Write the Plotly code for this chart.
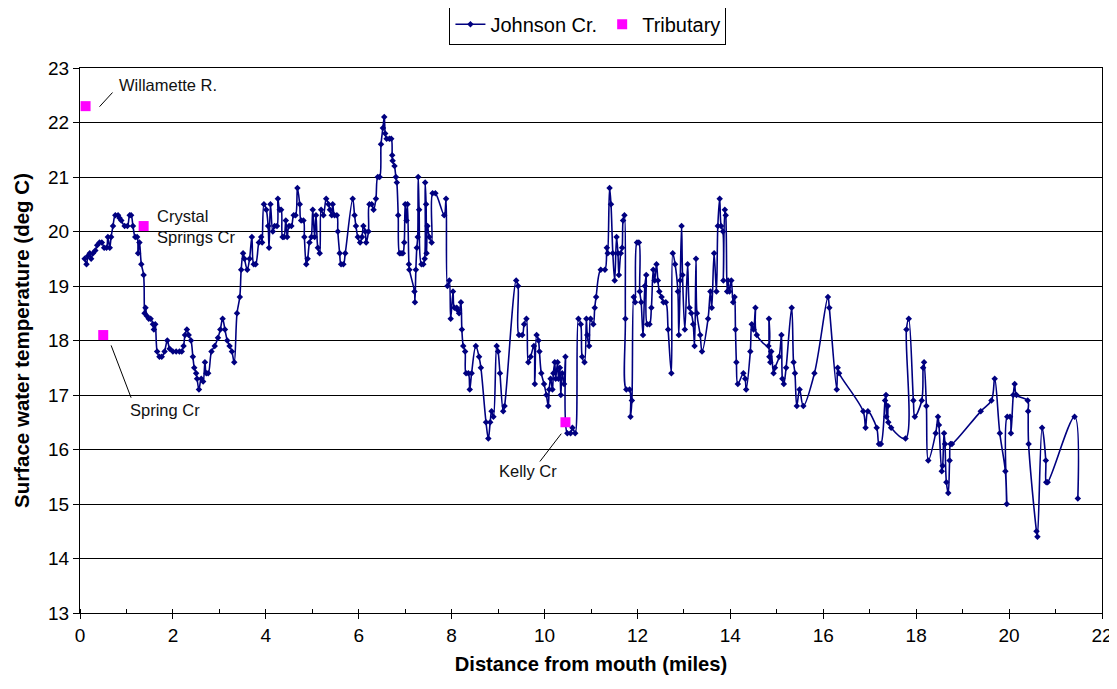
import plotly.graph_objects as go

# Johnson Creek longitudinal temperature profile
dist_miles = [
    0.10, 0.14, 0.17, 0.21, 0.24, 0.28, 0.33, 0.37, 0.42, 0.47, 0.52, 0.57, 0.60, 0.64, 0.67, 0.71,
    0.76, 0.82, 0.85, 0.89, 0.96, 1.02, 1.07, 1.10, 1.14, 1.19, 1.23, 1.25, 1.28, 1.32, 1.37, 1.39,
    1.41, 1.44, 1.48, 1.52, 1.57, 1.59, 1.62, 1.66, 1.71, 1.76, 1.82, 1.88, 1.93, 2.00, 2.07, 2.14,
    2.19, 2.23, 2.26, 2.30, 2.34, 2.39, 2.43, 2.46, 2.50, 2.52, 2.56,
    2.61, 2.65, 2.69, 2.72, 2.76, 2.83, 2.90, 2.97, 3.02, 3.07, 3.12, 3.17, 3.22, 3.27, 3.32, 3.38,
    3.44, 3.47, 3.51, 3.54, 3.60, 3.65, 3.70, 3.74, 3.78, 3.85, 3.90, 3.92, 3.96, 4.01, 4.05, 4.07,
    4.10, 4.15, 4.19, 4.24, 4.26, 4.30, 4.33, 4.36, 4.39, 4.43, 4.46, 4.50, 4.55, 4.60, 4.64, 4.68,
    4.73, 4.76, 4.81, 4.83, 4.87, 4.90, 4.94, 4.98, 5.01, 5.05, 5.08, 5.12, 5.16,
    5.19, 5.24, 5.30, 5.35, 5.38, 5.42, 5.44, 5.48, 5.53, 5.55, 5.59, 5.62, 5.67, 5.71, 5.87, 5.91,
    5.94, 5.98, 6.03, 6.07, 6.10, 6.14, 6.16, 6.21, 6.23, 6.28, 6.32, 6.37, 6.41, 6.45, 6.48, 6.52,
    6.55, 6.57, 6.60, 6.66, 6.70, 6.72, 6.73, 6.77, 6.80, 6.82, 6.85, 6.88, 6.91, 6.95, 6.98, 7.00,
    7.03, 7.05, 7.08, 7.09, 7.20, 7.21, 7.23, 7.25, 7.27, 7.28, 7.30, 7.35, 7.39, 7.42, 7.43, 7.45,
    7.46, 7.48, 7.52, 7.57, 7.59, 7.65, 7.84, 7.88, 7.91, 7.95, 7.98,
    8.03, 8.06, 8.11, 8.14, 8.16, 8.20, 8.22, 8.25, 8.29, 8.31, 8.36, 8.39, 8.43, 8.52, 8.59, 8.63,
    8.74, 8.79, 8.83, 8.86, 8.90, 8.97, 9.00, 9.04, 9.11, 9.14, 9.39, 9.43, 9.45, 9.52, 9.56, 9.61,
    9.65, 9.70, 9.77, 9.79, 9.83, 9.87, 9.89, 9.93, 9.99, 10.04, 10.08, 10.10, 10.13, 10.17, 10.19,
    10.22, 10.24, 10.28, 10.30, 10.33, 10.35, 10.38, 10.42, 10.45,
    10.49, 10.56, 10.60, 10.66, 10.73, 10.78, 10.81, 10.86, 10.90, 10.92, 10.96, 10.99, 11.05, 11.08,
    11.11, 11.21, 11.30, 11.34, 11.36, 11.40, 11.43, 11.47, 11.51, 11.55, 11.58, 11.60, 11.64, 11.67,
    11.69, 11.72, 11.74, 11.76, 11.83, 11.85, 11.88, 11.92, 11.95, 11.99, 12.03, 12.05, 12.08, 12.12,
    12.16, 12.19, 12.21, 12.26, 12.30, 12.34, 12.37, 12.41, 12.44, 12.47, 12.52, 12.56, 12.61, 12.66,
    12.73, 12.76, 12.81, 12.87, 12.89, 12.92, 12.95, 12.97, 13.02, 13.08, 13.12, 13.16,
    13.20, 13.23, 13.26, 13.28, 13.35, 13.39, 13.52, 13.57, 13.60, 13.65, 13.70, 13.73, 13.77, 13.80,
    13.84, 13.85, 13.88, 13.90, 13.93, 13.95, 13.98, 14.02, 14.06, 14.09, 14.11, 14.13, 14.16, 14.28,
    14.32, 14.34, 14.43, 14.46, 14.50, 14.54, 14.57, 14.82, 14.83, 14.84, 14.86, 14.88, 14.93, 14.96,
    15.05, 15.10, 15.12, 15.15, 15.20, 15.32, 15.36, 15.39, 15.43, 15.49, 15.57,
    15.81, 16.10, 16.13, 16.29, 16.31, 16.34, 16.86, 16.91, 16.96, 17.15, 17.20, 17.24, 17.33, 17.35,
    17.36, 17.39, 17.40, 17.46, 17.77, 17.79, 17.84, 17.94, 17.97, 18.12, 18.15, 18.17, 18.22,
    18.26, 18.42, 18.47, 18.49, 18.55, 18.57, 18.60, 18.62, 18.65, 18.69, 18.72, 18.74, 18.77, 19.39,
    19.62, 19.69, 19.80, 19.92, 19.95, 19.96, 20.02, 20.04, 20.09, 20.12, 20.16, 20.40, 20.41, 20.42,
    20.59, 20.61, 20.71, 20.79, 20.80, 20.83, 21.41, 21.48,
]
temp_c = [
    19.5, 19.4, 19.55, 19.6, 19.5, 19.6, 19.65, 19.75, 19.8, 19.8, 19.7, 19.7, 19.9, 19.7, 19.9, 20.1,
    20.3, 20.3, 20.25, 20.2, 20.1, 20.1, 20.3, 20.3, 20.1, 19.9, 19.9, 19.6, 19.8, 19.4, 19.2, 18.5,
    18.6, 18.45, 18.4, 18.4, 18.3, 18.2, 18.3, 17.8, 17.7, 17.7, 17.8, 18.0, 17.85, 17.8, 17.8, 17.8,
    17.8, 17.9, 18.1, 18.2, 18.1, 18.0, 17.7, 17.5, 17.4, 17.3, 17.1,
    17.3, 17.25, 17.6, 17.4, 17.4, 17.8, 17.9, 18.05, 18.2, 18.4, 18.2, 18.0, 17.9, 17.8, 17.6, 18.5,
    18.8, 19.3, 19.6, 19.5, 19.3, 19.5, 19.9, 19.4, 19.4, 19.8, 19.9, 19.8, 20.5, 20.4, 20.1, 19.7,
    20.5, 20.0, 20.1, 20.1, 20.6, 20.4, 20.4, 19.9, 19.9, 20.2, 19.9, 20.1, 20.1, 20.3, 20.3, 20.8,
    20.5, 20.2, 20.2, 19.9, 19.4, 19.5, 19.8, 19.9, 20.4, 19.9, 20.3, 19.7, 19.6,
    20.4, 20.3, 20.6, 20.5, 20.4, 20.3, 20.5, 20.3, 20.3, 20.0, 19.6, 19.4, 19.4, 19.6, 20.6, 20.3,
    20.1, 19.9, 19.8, 19.9, 20.1, 20.0, 19.8, 20.0, 20.5, 20.5, 20.4, 20.6, 21.0, 21.0, 21.6, 21.9,
    22.1, 21.8, 21.7, 21.7, 21.7, 21.4, 21.3, 21.2, 21.0, 20.9, 20.3, 19.6, 19.6, 19.6, 19.8, 20.5,
    20.2, 20.5, 19.4, 19.3, 18.9, 18.7, 19.3, 19.7, 19.9, 21.0, 20.4, 19.4, 19.4, 19.5, 20.9, 20.5,
    19.6, 20.1, 19.9, 19.8, 20.7, 20.7, 20.3, 20.6, 19.0, 19.1, 18.4,
    18.9, 18.6, 18.6, 18.55, 18.5, 18.7, 18.2, 17.9, 17.8, 17.4, 17.4, 17.1, 17.4, 17.9, 17.7, 17.5,
    16.5, 16.2, 16.5, 16.7, 16.6, 17.9, 17.8, 17.4, 16.7, 16.8, 19.1, 19.0, 18.1, 18.1, 18.3, 18.4,
    17.6, 17.7, 17.9, 17.2, 18.1, 18.0, 17.8, 17.4, 17.2, 17.0, 16.8, 17.1, 17.3, 17.1, 17.4,
    17.6, 17.3, 17.6, 17.3, 17.5, 17.0, 17.4, 17.2, 17.7,
    16.3, 16.3, 16.4, 16.3, 18.4, 18.3, 17.7, 17.6, 18.4, 18.1, 17.9, 18.4, 18.3, 18.6,
    18.8, 19.3, 19.3, 19.7, 19.6, 20.8, 20.5, 19.6, 19.1, 19.9, 19.6, 19.2, 19.6, 19.7,
    20.2, 20.3, 18.4, 17.1, 17.1, 16.6, 16.9, 18.8, 18.7, 19.8, 19.8, 18.9, 18.7, 18.1,
    19.0, 19.2, 18.3, 18.3, 18.6, 19.3, 19.1, 19.4, 19.1, 18.9, 18.8, 18.7, 18.7, 18.2,
    17.4, 19.6, 19.4, 18.9, 18.1, 19.1, 20.1, 19.2, 18.2, 19.4, 18.6, 18.5,
    18.3, 17.9, 19.5, 18.5, 18.1, 17.8, 18.4, 18.9, 18.6, 19.6, 18.9, 20.1, 20.6, 20.1,
    20.0, 19.1, 20.4, 20.3, 18.9, 19.1, 18.9, 19.1, 18.7, 18.8, 18.2, 17.6, 17.2, 17.4,
    17.3, 17.1, 17.8, 18.3, 18.2, 18.6, 18.1, 17.9, 18.4, 17.7, 17.6, 17.8, 17.4, 17.5,
    17.7, 18.1, 17.3, 17.2, 17.5, 18.6, 17.6, 17.4, 16.8, 17.1, 16.8,
    17.4, 18.8, 18.6, 17.1, 17.5, 17.4, 16.7, 16.4, 16.7, 16.4, 16.1, 16.1, 16.9, 17.0,
    16.6, 16.8, 16.5, 16.4, 16.2, 18.2, 18.4, 16.9, 16.6, 16.9, 17.5, 17.6, 16.8,
    15.8, 16.3, 16.6, 16.45, 15.6, 15.7, 16.3, 16.1, 15.4, 15.2, 15.8, 16.1, 16.1, 16.7,
    16.9, 17.3, 16.3, 15.6, 15.0, 16.6, 16.6, 16.3, 17.0, 17.2, 17.0, 16.9, 16.7, 16.1,
    14.5, 14.4, 16.4, 15.8, 15.4, 15.4, 16.6, 15.1,
]

# Tributary inflow temperatures
trib_names = ["Willamette R.", "Spring Cr", "Crystal<br>Springs Cr", "Kelly Cr"]
trib_miles = [0.12, 0.50, 1.37, 10.45]
trib_temp = [22.3, 18.1, 20.1, 16.5]

# label placement (data coords) and leader lines
label_x = [0.79, 1.04, 1.62, 9.65]
label_y = [22.69, 16.73, 20.1, 15.61]
label_anchor = ["left", "left", "left", "center"]
leader_x0 = [0.42, 0.67, None, 10.36]
leader_y0 = [22.29, 17.91, None, 16.29]
leader_x1 = [0.70, 1.10, None, 9.90]
leader_y1 = [22.55, 16.95, None, 15.78]

x_ticks = list(range(0, 23, 2))
y_ticks = list(range(13, 24))

NAVY = "#000080"
FONT = "Liberation Sans, Arial, sans-serif"

fig = go.Figure()
fig.add_trace(go.Scatter(
    x=dist_miles, y=temp_c, name="Johnson Cr.", mode="lines+markers",
    line=dict(color=NAVY, width=1.6, shape="spline", smoothing=1.0),
    marker=dict(symbol="diamond", size=5, color=NAVY),
))
fig.add_trace(go.Scatter(
    x=trib_miles, y=trib_temp, name="Tributary", mode="markers",
    marker=dict(symbol="square", size=10, color="#FF00FF"),
))

for i, name in enumerate(trib_names):
    fig.add_annotation(x=label_x[i], y=label_y[i], text=name, showarrow=False,
                       xanchor=label_anchor[i], yanchor="middle", align="left",
                       font=dict(family=FONT, size=16.5, color="#111111"))
    if leader_x0[i] is not None:
        fig.add_shape(type="line", xref="x", yref="y",
                      x0=leader_x0[i], y0=leader_y0[i], x1=leader_x1[i], y1=leader_y1[i],
                      line=dict(color="black", width=1))

# the page body adds an 8px margin, so the figure is drawn 8px smaller
fig.update_layout(
    width=1109, height=681,
    margin=dict(l=72, r=15, t=60, b=76, autoexpand=False),
    paper_bgcolor="white", plot_bgcolor="white",
    font=dict(family=FONT, size=19, color="black"),
    showlegend=True,
    legend=dict(orientation="h", x=0.497, xanchor="center", y=1.118, yanchor="top",
                bordercolor="black", borderwidth=1, bgcolor="white",
                font=dict(size=20), itemwidth=30, tracegroupgap=0),
)
fig.update_xaxes(
    range=[0, 22], tickvals=x_ticks, showgrid=False, zeroline=False,
    showline=True, linecolor="black", linewidth=1, mirror=True,
    ticks="outside", ticklen=5, tickcolor="black",
    minor=dict(dtick=1, tick0=0, ticks="inside", ticklen=4, tickcolor="black", showgrid=False),
    tickfont=dict(size=19),
    title=dict(text="<b>Distance from mouth (miles)</b>", font=dict(size=20.2), standoff=12),
)
fig.update_yaxes(
    range=[13, 23], tickvals=y_ticks, showgrid=True, gridcolor="black", gridwidth=1,
    zeroline=False, showline=True, linecolor="black", linewidth=1, mirror=True,
    ticks="outside", ticklen=6, tickcolor="black",
    tickfont=dict(size=19),
    title=dict(text="<b>Surface water temperature (deg C)</b>", font=dict(size=20.5), standoff=12),
)

fig.write_html("out.html")
